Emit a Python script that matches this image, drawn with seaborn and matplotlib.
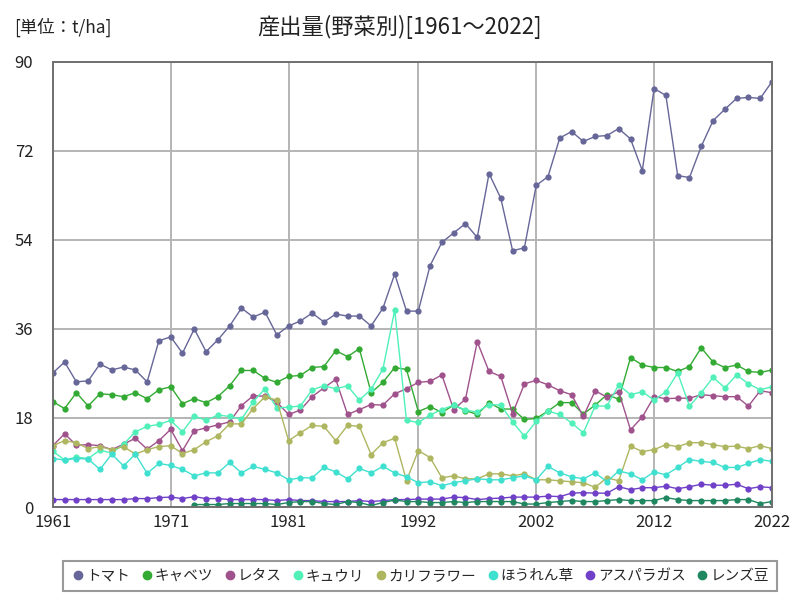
import numpy as np
import pandas as pd
import matplotlib
matplotlib.use("Agg")
import matplotlib.pyplot as plt
from matplotlib.lines import Line2D
import seaborn as sns

years = list(range(1961, 2023))

tomato = [27.1, 29.3, 25.3, 25.5, 28.9, 27.7, 28.3, 27.7, 25.3, 33.6,
          34.4, 31.1, 36.0, 31.4, 33.8, 36.6, 40.2, 38.4, 39.4, 34.8,
          36.6, 37.6, 39.2, 37.4, 39.0, 38.6, 38.6, 36.6, 40.2, 47.1,
          39.6, 39.6, 48.8, 53.5, 55.4, 57.3, 54.5, 67.4, 62.4, 51.8,
          52.4, 65.0, 66.8, 74.6, 75.9, 73.9, 74.9, 75.1, 76.5, 74.4,
          68.0, 84.6, 83.2, 67.0, 66.6, 72.9, 78.1, 80.4, 82.6, 82.8,
          82.6, 86.0]

cabbage = [21.3, 19.9, 23.1, 20.4, 22.9, 22.7, 22.3, 23.1, 21.9, 23.7,
           24.3, 20.9, 21.9, 21.1, 22.3, 24.5, 27.6, 27.6, 26.0, 25.2,
           26.4, 26.6, 28.2, 28.4, 31.6, 30.4, 32.0, 23.1, 25.2, 28.2,
           27.8, 19.3, 20.3, 19.1, 20.6, 19.5, 18.7, 21.1, 19.8, 19.8,
           17.7, 17.9, 19.4, 21.1, 21.1, 18.8, 20.6, 22.7, 21.8, 30.2,
           28.7, 28.2, 28.2, 27.4, 28.4, 32.2, 29.3, 28.2, 28.7, 27.4,
           27.2, 27.7]

lettuce = [12.4, 14.8, 12.5, 12.6, 12.4, 11.6, 12.7, 13.9, 11.7, 13.4,
           15.7, 11.4, 15.4, 16.0, 16.6, 17.2, 20.5, 22.5, 22.4, 21.2,
           18.7, 19.6, 22.3, 24.1, 25.8, 18.7, 19.7, 20.7, 20.6, 22.9,
           23.9, 25.2, 25.4, 26.7, 19.7, 21.8, 33.4, 27.4, 26.4, 18.9,
           24.9, 25.6, 24.7, 23.5, 22.7, 18.3, 23.5, 22.2, 23.3, 15.6,
           18.2, 22.3, 21.9, 22.0, 22.0, 22.7, 22.5, 22.3, 22.3, 20.4,
           23.5, 23.1]

cucumber = [11.3, 9.5, 10.1, 9.8, 11.5, 10.9, 12.7, 15.2, 16.3, 16.7,
            17.5, 15.2, 18.4, 17.5, 18.6, 18.3, 17.7, 21.3, 23.9, 20.0,
            20.2, 20.4, 23.7, 24.5, 23.9, 24.5, 21.6, 23.8, 27.9, 39.8,
            17.5, 17.1, 18.6, 19.7, 20.6, 19.6, 19.2, 20.7, 20.6, 17.2,
            14.3, 17.3, 19.4, 18.7, 17.0, 15.0, 20.4, 20.4, 24.7, 22.7,
            23.3, 21.6, 23.3, 27.1, 20.4, 23.1, 26.2, 24.1, 26.7, 24.9,
            23.7, 24.3]

cauliflower = [12.4, 13.4, 13.0, 11.8, 12.2, 11.6, 12.2, 10.7, 11.6, 12.2,
               12.4, 10.8, 11.6, 13.2, 14.4, 16.8, 16.8, 19.9, 22.3, 21.6,
               13.4, 15.0, 16.5, 16.3, 13.4, 16.5, 16.3, 10.6, 13.0, 13.9,
               5.3, 11.4, 10.0, 5.9, 6.3, 5.7, 5.7, 6.7, 6.7, 6.3,
               6.7, 5.5, 5.5, 5.3, 5.1, 4.9, 4.0, 5.9, 5.3, 12.3,
               11.2, 11.6, 12.6, 12.2, 13.0, 13.0, 12.6, 12.2, 12.3, 11.8,
               12.4, 11.8]

spinach = [9.8, 9.5, 9.8, 9.7, 7.6, 10.7, 8.3, 10.7, 6.8, 8.8,
           8.4, 7.6, 6.3, 6.9, 6.9, 9.0, 6.9, 8.2, 7.6, 6.9,
           5.5, 5.9, 5.9, 8.0, 7.1, 5.7, 7.8, 6.9, 8.2, 6.9,
           6.1, 4.9, 5.1, 4.3, 4.9, 5.3, 5.7, 5.5, 5.5, 5.9,
           6.3, 5.5, 8.2, 6.9, 6.1, 5.7, 6.9, 5.1, 7.3, 6.7,
           5.5, 7.1, 6.5, 8.0, 9.6, 9.2, 9.0, 8.0, 8.0, 8.8,
           9.6, 9.2]

asparagus = [1.5, 1.5, 1.5, 1.5, 1.5, 1.5, 1.5, 1.7, 1.7, 1.9,
             2.0, 1.7, 2.1, 1.7, 1.7, 1.5, 1.5, 1.5, 1.5, 1.3,
             1.5, 1.3, 1.3, 1.1, 1.1, 1.1, 1.3, 1.1, 1.3, 1.5,
             1.5, 1.6, 1.6, 1.6, 2.0, 1.9, 1.5, 1.7, 1.8, 2.0,
             2.0, 2.0, 2.2, 2.1, 2.8, 2.9, 2.8, 2.8, 4.1, 3.5,
             3.9, 3.9, 4.2, 3.7, 4.1, 4.6, 4.4, 4.4, 4.6, 3.7,
             4.1, 3.9]

lentils = [np.nan] * 12 + [
           0.5, 0.5, 0.5, 0.7, 0.7, 0.7, 0.7, 0.5,
           0.9, 1.1, 1.1, 0.7, 0.5, 1.1, 0.9, 0.3, 0.9, 1.4,
           1.1, 1.1, 0.9, 0.9, 1.1, 0.9, 1.1, 1.1, 1.1, 1.1,
           0.6, 0.6, 0.9, 1.1, 1.3, 1.1, 1.1, 1.3, 1.5, 1.3,
           1.3, 1.3, 1.9, 1.5, 1.3, 1.3, 1.3, 1.3, 1.5, 1.5,
           0.7, 1.1]

names = ["トマト", "キャベツ", "レタス", "キュウリ", "カリフラワー", "ほうれん草", "アスパラガス", "レンズ豆"]
series = [tomato, cabbage, lettuce, cucumber, cauliflower, spinach, asparagus, lentils]
colors = ["#666699", "#33AA33", "#A0528C", "#50F0B8", "#AEB660", "#40E0D0", "#7040C8", "#208860"]

df = pd.DataFrame({
    "year": np.tile(years, len(names)),
    "value": np.concatenate([np.array(s, dtype=float) for s in series]),
    "item": np.repeat(names, len(years)),
})

sns.set_theme(style="white")
plt.rcParams['font.family'] = ['Noto Sans CJK JP', 'DejaVu Sans']

fig = plt.figure(figsize=(8, 6), dpi=100)
ax = fig.add_axes([0.066, 0.155, 0.899, 0.742])

sns.lineplot(data=df, x="year", y="value", hue="item", hue_order=names,
             palette=dict(zip(names, colors)), marker="o", markersize=4.5,
             markeredgewidth=0, linewidth=1.0, ax=ax, legend=False,
             estimator=None, sort=True)

ax.set_xlim(1961, 2022)
ax.set_ylim(0, 90)
ax.set_xticks([1961, 1971, 1981, 1992, 2002, 2012, 2022])
ax.set_yticks([0, 18, 36, 54, 72, 90])
ax.grid(True, color="#b4b4b4", linewidth=1.4)
ax.set_axisbelow(True)
ax.set_xlabel("")
ax.set_ylabel("")
ax.tick_params(axis="both", labelsize=12, length=0, colors="#222222")
ax.tick_params(axis="y", pad=14)
ax.tick_params(axis="x", pad=5)
for sp in ax.spines.values():
    sp.set_color("#707070")
    sp.set_linewidth(1.4)

fig.text(0.5, 0.955, "産出量(野菜別)[1961～2022]", ha="center", va="center", fontsize=16, color="#222222")
fig.text(0.018, 0.955, "[単位：t/ha]", ha="left", va="center", fontsize=12.5, color="#222222")

handles = [Line2D([0], [0], marker="o", linestyle="", color=c, markersize=6) for c in colors]
leg = fig.legend(handles, names, loc="center", bbox_to_anchor=(0.525, 0.04), ncol=8,
                 frameon=True, fontsize=10.5, handletextpad=0.05, columnspacing=0.62,
                 handlelength=1.0, borderpad=0.55, fancybox=False)
leg.get_frame().set_edgecolor("#808080")
leg.get_frame().set_linewidth(1.5)

fig.savefig("out.png", dpi=100)
